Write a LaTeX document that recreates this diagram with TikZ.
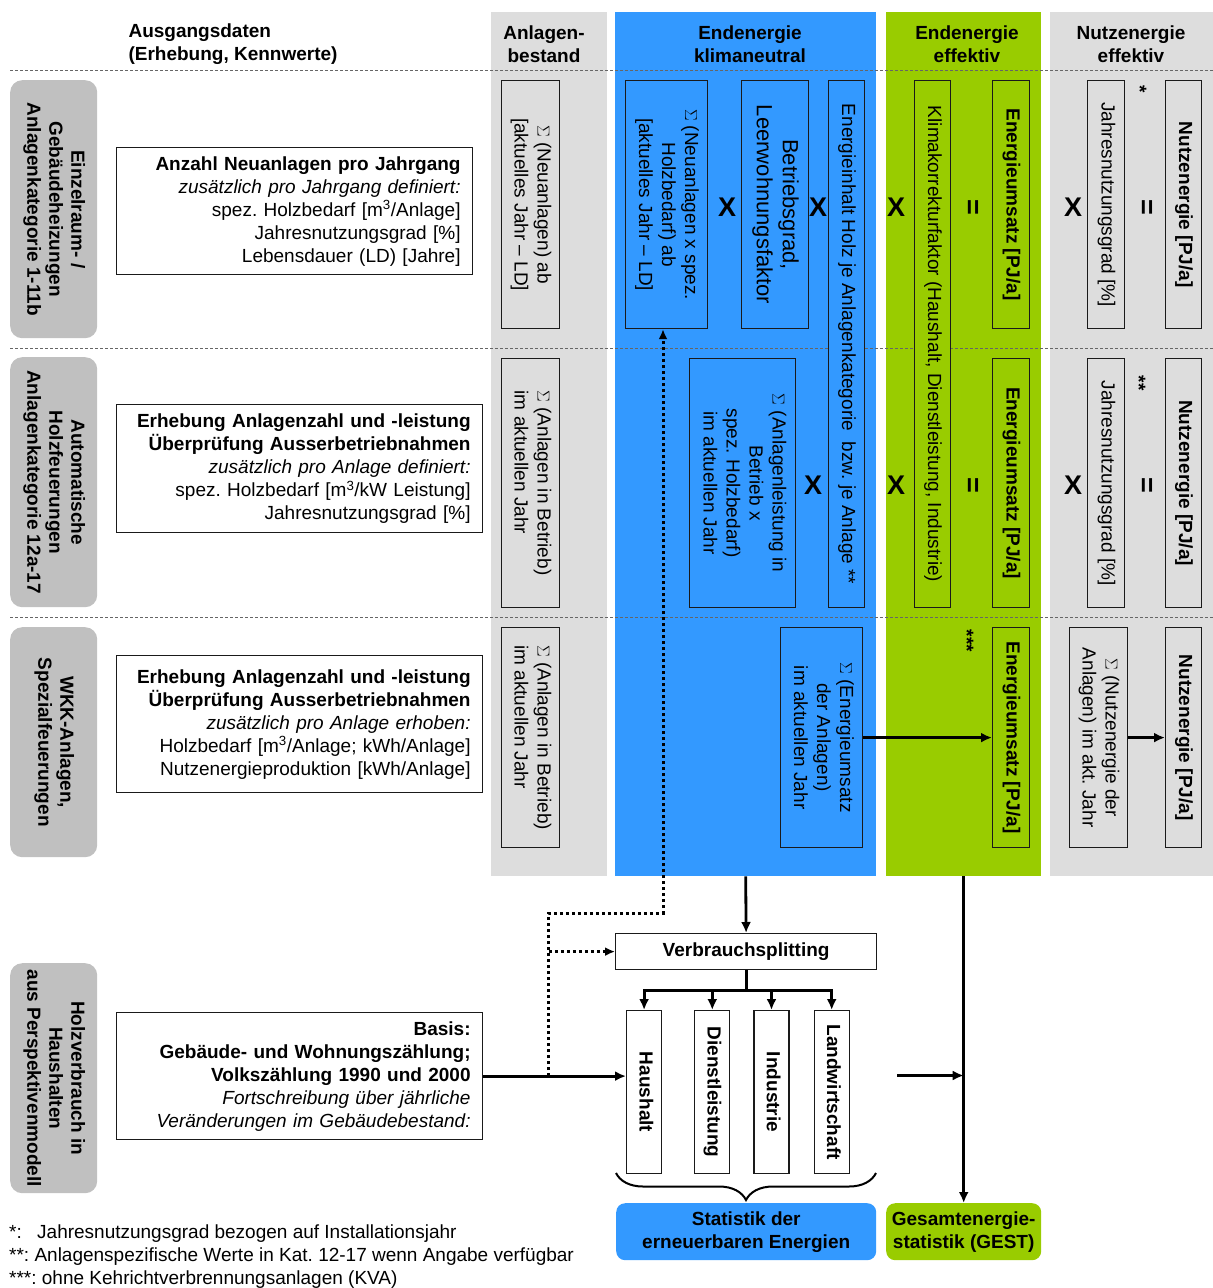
\documentclass[tikz,border=0pt]{standalone}
\usepackage{fontspec}
\setmainfont{Liberation Sans}
\usepackage{graphicx}
\usetikzlibrary{positioning,arrows.meta,decorations.pathreplacing}
\definecolor{klimablau}{HTML}{3399FF}
\definecolor{effgruen}{HTML}{99CC00}
\definecolor{spaltengrau}{HTML}{DDDDDD}
\definecolor{labelgrau}{HTML}{C0C0C0}
\definecolor{rahmen}{HTML}{1A1A1A}
\frenchspacing

\newcommand{\vtxt}[2][c]{\rotatebox{-90}{\begin{tabular}{@{}#1@{}}#2\end{tabular}}}

\tikzset{
  every node/.style={font=\fontsize{19}{23}\selectfont},
  colbg/.style={fill=#1, draw=none, anchor=north west, inner sep=0pt, minimum height=864pt},
  rowlabel/.style={fill=labelgrau, rounded corners=12pt, anchor=north west, inner sep=0pt,
    minimum width=87pt, font=\fontsize{19}{22}\selectfont\bfseries},
  infobox/.style={draw=rahmen, line width=1.2pt, fill=white, align=right, anchor=north west,
    inner xsep=12pt},
  vbox/.style={draw=rahmen, fill=#1, line width=1.2pt, anchor=north west, inner sep=1pt},
  head/.style={font=\fontsize{19}{23}\selectfont\bfseries, align=center},
  op/.style={font=\fontsize{27}{27}\selectfont\bfseries, inner sep=0pt},
  stern/.style={font=\fontsize{19}{19}\selectfont\bfseries, inner sep=0pt, rotate=-90},
  endbox/.style={fill=#1, rounded corners=9pt, anchor=north west, align=center,
    font=\fontsize{19}{23}\selectfont\bfseries, minimum height=57pt},
  rowsep/.style={densely dashed, line width=0.8pt, black!60},
  flow/.style={line width=2.8pt, -{Latex[length=11pt,width=10pt]}},
  hint/.style={line width=3pt, dash pattern=on 3pt off 3pt, -{Latex[length=10pt,width=9pt]}},
}

\begin{document}
\begin{tikzpicture}[x=1pt, y=-1pt]
  \useasboundingbox (0,0) rectangle (1213,1288);
  % Columns
  \node[colbg=spaltengrau, minimum width=116pt] (colBest) at (491,12) {};
  \node[colbg=klimablau, minimum width=261pt] (colKlima) at (615,12) {};
  \node[colbg=effgruen, minimum width=155pt] (colEff) at (886,12) {};
  \node[colbg=spaltengrau, minimum width=163pt] (colNutz) at (1050,12) {};
  \draw[rowsep] (10,70) -- (1213,70);
  \draw[rowsep] (10,348) -- (1213,348);
  \draw[rowsep] (10,617) -- (1213,617);

  % Headers
  \node[head, anchor=west, align=left] (hAusgang) at (125,44) {Ausgangsdaten\\(Erhebung, Kennwerte)};
  \node[head] (hBestand) at (544,44) {Anlagen-\\bestand};
  \node[head] (hKlima) at (750,44) {Endenergie\\klimaneutral};
  \node[head] (hEff) at (967,44) {Endenergie\\effektiv};
  \node[head] (hNutz) at (1131,44) {Nutzenergie\\effektiv};

  % Define nodes
  \node[rowlabel, minimum height=258pt] (lab1) at (10,80) {\vtxt{Einzelraum- /\\Gebäudeheizungen\\Anlagenkategorie 1-11b}};
  \node[rowlabel, minimum height=250pt] (lab2) at (10,357) {\vtxt{Automatische\\Holzfeuerungen\\Anlagenkategorie 12a-17}};
  \node[rowlabel, minimum height=230pt] (lab3) at (10,627) {\vtxt{WKK-Anlagen,\\Spezialfeuerungen}};
  \node[rowlabel, minimum height=230pt] (lab4) at (10,963) {\vtxt{Holzverbrauch in\\Haushalten\\aus Perspektivenmodell}};

  \node[infobox, minimum width=356pt, text width=332pt, minimum height=127pt] (aus1) at (116,147)
    {\textbf{Anzahl Neuanlagen pro Jahrgang}\\\textit{zusätzlich pro Jahrgang definiert:}\\spez. Holzbedarf [m\textsuperscript{3}/Anlage]\\Jahresnutzungsgrad [\%]\\Lebensdauer (LD) [Jahre]};
  \node[infobox, minimum width=366pt, text width=342pt, minimum height=128pt] (aus2) at (116,404)
    {\textbf{Erhebung Anlagenzahl und -leistung}\\\textbf{Überprüfung Ausserbetriebnahmen}\\\textit{zusätzlich pro Anlage definiert:}\\spez. Holzbedarf [m\textsuperscript{3}/kW Leistung]\\Jahresnutzungsgrad [\%]};
  \node[infobox, minimum width=366pt, text width=342pt, minimum height=137pt] (aus3) at (116,655)
    {\textbf{Erhebung Anlagenzahl und -leistung}\\\textbf{Überprüfung Ausserbetriebnahmen}\\\textit{zusätzlich pro Anlage erhoben:}\\Holzbedarf [m\textsuperscript{3}/Anlage; kWh/Anlage]\\Nutzenergieproduktion [kWh/Anlage]};
  \node[infobox, minimum width=366pt, text width=342pt, minimum height=127pt] (aus4) at (116,1012)
    {\textbf{Basis:}\\\textbf{Gebäude- und Wohnungszählung;}\\\textbf{Volkszählung 1990 und 2000}\\\textit{Fortschreibung über jährliche}\\\textit{Veränderungen im Gebäudebestand:}};

  % Anlagenbestand
  \node[vbox=spaltengrau, minimum width=58pt, minimum height=248pt] (best1) at (501,80) {\vtxt{$\Sigma$ (Neuanlagen) ab\\{[}aktuelles Jahr -- LD]}};
  \node[vbox=spaltengrau, minimum width=58pt, minimum height=249pt] (best2) at (501,358) {\vtxt[l]{$\Sigma$ (Anlagen in Betrieb)\\im aktuellen Jahr}};
  \node[vbox=spaltengrau, minimum width=58pt, minimum height=220pt] (best3) at (501,627) {\vtxt[l]{$\Sigma$ (Anlagen in Betrieb)\\im aktuellen Jahr}};

  % Endenergie klimaneutral
  \node[vbox=klimablau, minimum width=82pt, minimum height=248pt] (neu) at (625,80) {\vtxt{$\Sigma$ (Neuanlagen x spez.\\Holzbedarf) ab\\{[}aktuelles Jahr -- LD]}};
  \node[vbox=klimablau, minimum width=67pt, minimum height=248pt, font=\fontsize{22}{26}\selectfont] (betrieb) at (741,80) {\vtxt{Betriebsgrad,\\Leerwohnungsfaktor}};
  \node[vbox=klimablau, minimum width=36pt, minimum height=527pt] (inhalt) at (828,80) {\vtxt{Energieinhalt Holz je Anlagenkategorie\ \ bzw. je Anlage **}};
  \node[vbox=klimablau, minimum width=106pt, minimum height=249pt] (leistung) at (689,358) {\vtxt{$\Sigma$ (Anlagenleistung in\\Betrieb x\\spez. Holzbedarf)\\im aktuellen Jahr}};
  \node[vbox=klimablau, minimum width=82pt, minimum height=220pt] (umsatzWkk) at (780,627) {\vtxt{$\Sigma$ (Energieumsatz\\der Anlagen)\\im aktuellen Jahr}};

  % Endenergie effektiv
  \node[vbox=effgruen, minimum width=36pt, minimum height=527pt] (klima) at (914,80) {\vtxt{Klimakorrekturfaktor (Haushalt, Dienstleistung, Industrie)}};
  \node[vbox=effgruen, minimum width=37pt, minimum height=248pt] (eu1) at (992,80) {\vtxt{\bfseries Energieumsatz [PJ/a]}};
  \node[vbox=effgruen, minimum width=37pt, minimum height=249pt] (eu2) at (992,358) {\vtxt{\bfseries Energieumsatz [PJ/a]}};
  \node[vbox=effgruen, minimum width=37pt, minimum height=220pt] (eu3) at (992,627) {\vtxt{\bfseries Energieumsatz [PJ/a]}};

  % Nutzenergie effektiv
  \node[vbox=spaltengrau, minimum width=37pt, minimum height=248pt] (jng1) at (1087,80) {\vtxt{Jahresnutzungsgrad [\%]}};
  \node[vbox=spaltengrau, minimum width=37pt, minimum height=249pt] (jng2) at (1087,358) {\vtxt{Jahresnutzungsgrad [\%]}};
  \node[vbox=spaltengrau, minimum width=58pt, minimum height=220pt] (nutzWkk) at (1069,627) {\vtxt{$\Sigma$ (Nutzenergie der\\Anlagen) im akt. Jahr}};
  \node[vbox=spaltengrau, minimum width=36pt, minimum height=248pt] (ne1) at (1165,80) {\vtxt{\bfseries Nutzenergie [PJ/a]}};
  \node[vbox=spaltengrau, minimum width=36pt, minimum height=249pt] (ne2) at (1165,358) {\vtxt{\bfseries Nutzenergie [PJ/a]}};
  \node[vbox=spaltengrau, minimum width=36pt, minimum height=220pt] (ne3) at (1165,627) {\vtxt{\bfseries Nutzenergie [PJ/a]}};

  % Operators
  \node[op] (x1a) at (727,207) {X};
  \node[op] (x1b) at (818,207) {X};
  \node[op] (x1c) at (896,207) {X};
  \node[op] (x1d) at (1073,207) {X};
  \node[op] (eq1a) at (972,207) {\rotatebox{-90}{=}};
  \node[op] (eq1b) at (1146,207) {\rotatebox{-90}{=}};
  \node[op] (x2a) at (813,485) {X};
  \node[op] (x2b) at (896,485) {X};
  \node[op] (x2c) at (1073,485) {X};
  \node[op] (eq2a) at (972,485) {\rotatebox{-90}{=}};
  \node[op] (eq2b) at (1146,485) {\rotatebox{-90}{=}};
  \node[stern] (s1) at (1140,89) {*};
  \node[stern] (s2) at (1139,383) {**};
  \node[stern] (s3) at (967,641) {***};

  % Verbrauchsplitting
  \node[vbox=white, minimum width=261pt, minimum height=36pt, font=\fontsize{19}{23}\selectfont\bfseries] (split) at (615,933) {Verbrauchsplitting};
  \node[vbox=white, minimum width=35pt, minimum height=163pt, font=\fontsize{19}{23}\selectfont\bfseries] (haushalt) at (626,1010) {\vtxt{Haushalt}};
  \node[vbox=white, minimum width=35pt, minimum height=163pt, font=\fontsize{19}{23}\selectfont\bfseries, right=32pt of haushalt] (dienst) {\vtxt{Dienstleistung}};
  \node[vbox=white, minimum width=35pt, minimum height=163pt, font=\fontsize{19}{23}\selectfont\bfseries, right=23pt of dienst] (industrie) {\vtxt{Industrie}};
  \node[vbox=white, minimum width=35pt, minimum height=163pt, font=\fontsize{19}{23}\selectfont\bfseries, right=24pt of industrie] (landw) {\vtxt{Landwirtschaft}};

  \node[endbox=klimablau, minimum width=260pt] (stat) at (616,1203) {Statistik der\\erneuerbaren Energien};
  \node[endbox=effgruen, minimum width=155pt] (gest) at (886,1203) {Gesamtenergie-\\statistik (GEST)};

  \node[anchor=north west, align=left, inner sep=0pt] (fussnote) at (9,1225)
    {\makebox[28pt][l]{*:}Jahresnutzungsgrad bezogen auf Installationsjahr\\**: Anlagenspezifische Werte in Kat. 12-17 wenn Angabe verfügbar\\***: ohne Kehrichtverbrennungsanlagen (KVA)};

  % Connect the nodes
  \draw[flow] (colKlima.south) -- (split.north);
  \draw[flow] (colEff.south) -- (gest.north);
  \draw[line width=2.8pt] (split.south) -- ++(0,20) coordinate (fork);
  \foreach \s in {haushalt,dienst,industrie,landw}
    \draw[flow] (fork) -| (\s.north);
  \draw[flow] (aus4.east) -- (aus4.east -| haushalt.west) coordinate[pos=0.46] (dotJ);
  \coordinate (dotTop) at (663,913);
  \draw[hint] (dotJ) |- (dotTop) -- (dotTop |- neu.south);
  \draw[hint] (dotJ |- split.west) -- (split.west);
  \draw[flow] (umsatzWkk.east) -- (eu3.west);
  \draw[flow] (nutzWkk.east) -- (ne3.west);
  \coordinate (sektorOut) at (897,1075.5);
  \draw[flow] (sektorOut) -- (sektorOut -| colEff.south);
  \draw[line width=2pt, decorate, decoration={brace, amplitude=27pt}] (876,1173) -- (616,1173);
\end{tikzpicture}
\end{document}
